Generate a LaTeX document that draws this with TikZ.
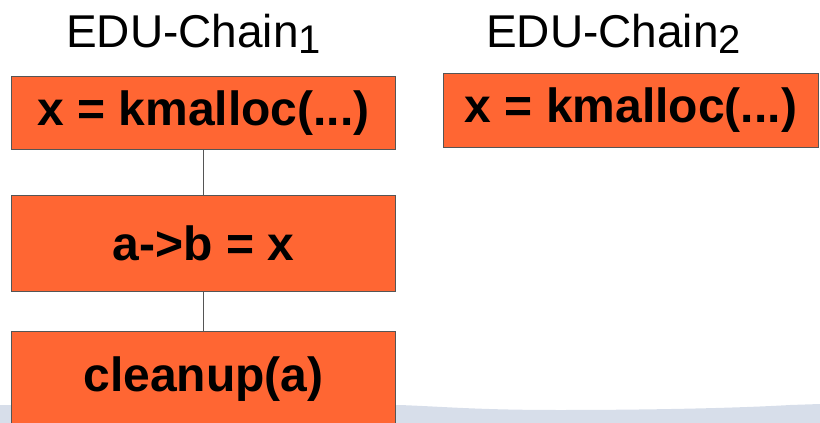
\documentclass[tikz,border=0pt]{standalone}
\usepackage{fontspec}
\setmainfont{Liberation Sans}
\definecolor{boxfill}{HTML}{FF6633}
\definecolor{boxline}{HTML}{555555}
\definecolor{band}{HTML}{D7DEEA}
\begin{document}
\begin{tikzpicture}[x=1pt,y=-1pt,
  stmt/.style={draw=boxline,line width=0.9pt,fill=boxfill,inner sep=0pt,anchor=north west,
    font=\fontsize{48}{52}\selectfont\bfseries},
  ttl/.style={font=\fontsize{46}{50}\selectfont,inner sep=0pt,anchor=base west},
  link/.style={draw=boxline,line width=0.9pt}]
\useasboundingbox (0,0) rectangle (820,423);
% bottom band
\fill[band] (0,405) -- (400,405) .. controls (450,407) and (480,410) .. (560,410)
  .. controls (650,410) and (740,408) .. (790,405) -- (820,404) -- (820,423) -- (0,423) -- cycle;
% titles
\node[ttl] (t1) at (66,47) {EDU-Chain\raisebox{-6pt}{\fontsize{40}{40}\selectfont 1}};
\node[ttl] (t2) at (486,47) {EDU-Chain\raisebox{-6pt}{\fontsize{40}{40}\selectfont 2}};
% boxes
\node[stmt,minimum width=384pt,minimum height=73pt] (b1) at (11,76) {x = kmalloc(...)};
\node[stmt,minimum width=384pt,minimum height=96pt] (b2) at (11,195) {a->b = x};
\node[stmt,minimum width=384pt,minimum height=96pt] (b3) at (11,331) {\raisebox{-4pt}{cleanup(a)}};
\node[stmt,minimum width=375pt,minimum height=74pt] (c1) at (443,73) {x = kmalloc(...)};
% connectors
\draw[link] (b1.south) -- (b2.north);
\draw[link] (b2.south) -- (b3.north);
\end{tikzpicture}
\end{document}
